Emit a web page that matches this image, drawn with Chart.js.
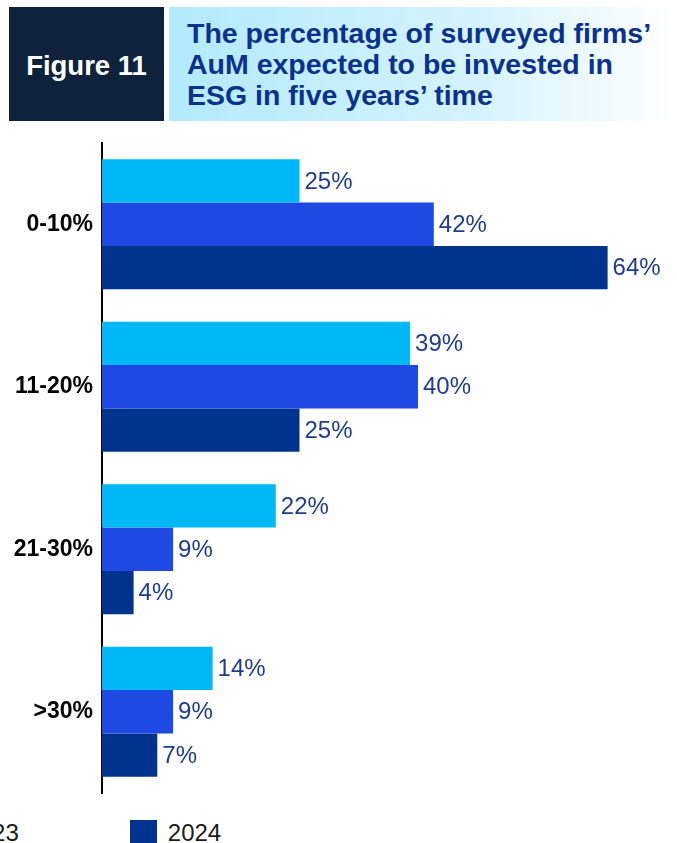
<!DOCTYPE html>
<html>
<head>
<meta charset="utf-8">
<script src="https://cdn.jsdelivr.net/npm/chart.js@4/dist/chart.umd.min.js"></script>
<style>
  html, body { margin: 0; padding: 0; background: #fff; overflow: hidden; }
  body { width: 677px; height: 843px; position: relative; font-family: "Liberation Sans", Arial, sans-serif; }
  .fig { position: absolute; left: 9px; top: 7px; width: 155px; height: 114px; background: #0e233b;
         color: #fff; font-weight: bold; font-size: 27.5px; display: flex; align-items: center; justify-content: center; padding-top: 3px; box-sizing: border-box; }
  .title { position: absolute; left: 169px; top: 7px; width: 508px; height: 114px;
           background: linear-gradient(to right, #b2eafc 0%, #d4f3fd 60%, #ffffff 100%);
           color: #0a318e; font-weight: bold; font-size: 28.5px; line-height: 31px; box-sizing: border-box; padding: 11px 0 0 18px; white-space: nowrap; }
  .chart { position: absolute; left: 0; top: 121px; width: 677px; height: 695px; }
  .legend { position: absolute; left: -275px; top: 819px; display: flex; white-space: nowrap; }
  .legend .item { display: flex; align-items: center; margin-right: 111px; font-size: 24px; color: #1a1a1a; }
  .legend .box { width: 27px; height: 27px; margin-right: 11px; }
</style>
</head>
<body>
<div class="fig">Figure 11</div>
<div class="title">The percentage of surveyed firms’<br>AuM expected to be invested in<br>ESG in five years’ time</div>
<div class="chart"><canvas id="myChart"></canvas></div>
<div class="legend" id="legend"></div>
<script>
const categories = ['0-10%', '11-20%', '21-30%', '>30%']
const years = ['2022', '2023', '2024']
const values2022 = [25, 39, 22, 14]
const values2023 = [42, 40, 9, 9]
const values2024 = [64, 25, 4, 7]
const colors = ['#00b8f5', '#1e49e2', '#00338d']

// labels with the value at the end of each bar
const valueLabels = {
  id: 'valueLabels',
  afterDatasetsDraw(chart) {
    const ctx = chart.ctx
    ctx.save()
    ctx.font = '24px "Liberation Sans", Arial, sans-serif'
    ctx.fillStyle = '#1e3d8f'
    ctx.textAlign = 'left'
    ctx.textBaseline = 'middle'
    chart.data.datasets.forEach((ds, i) => {
      chart.getDatasetMeta(i).data.forEach((bar, j) => {
        ctx.fillText(ds.data[j] + '%', bar.x + 5, bar.y + 1)
      })
    })
    ctx.restore()
  }
}

const ctx = document.getElementById('myChart').getContext('2d')
const myChart = new Chart(ctx, {
  type: 'bar',
  data: {
    labels: categories,
    datasets: [
      { label: years[0], data: values2022, backgroundColor: colors[0] },
      { label: years[1], data: values2023, backgroundColor: colors[1] },
      { label: years[2], data: values2024, backgroundColor: colors[2] }
    ]
  },
  options: {
    indexAxis: 'y',
    responsive: true,
    maintainAspectRatio: false,
    animation: false,
    categoryPercentage: 0.8,
    barPercentage: 1.0,
    layout: { padding: { top: 0, bottom: 0, left: 0, right: 22 } },
    plugins: { legend: { display: false }, tooltip: { enabled: false } },
    scales: {
      x: { display: false, min: 0, max: 70 },
      y: {
        afterFit(scale) {
          scale.width = 102
          scale.paddingTop = 22
          scale.paddingBottom = 23
        },
        grid: { display: false, drawTicks: false },
        border: { display: true, color: '#000', width: 2 },
        ticks: {
          color: '#000',
          padding: 9,
          font: { family: '"Liberation Sans", Arial, sans-serif', size: 23, weight: 'bold' }
        }
      }
    }
  },
  plugins: [valueLabels]
})

const legend = document.getElementById('legend')
years.forEach((y, i) => {
  legend.innerHTML += `<div class="item"><span class="box" style="background:${colors[i]}"></span>${y}</div>`
})
</script>
</body>
</html>
